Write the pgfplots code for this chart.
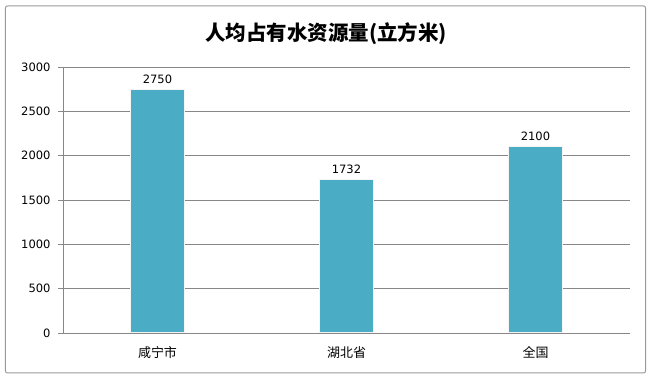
\documentclass[border=0pt]{standalone}
\usepackage{pgfplots}
\pgfplotsset{compat=1.18}
\usetikzlibrary{calc}
\usepackage{fontspec}
\setmainfont{DejaVu Sans}
\newfontfamily\cjk{Noto Sans CJK SC}
\definecolor{barc}{HTML}{4BACC6}
\definecolor{gridc}{HTML}{878787}
\begin{document}
\begin{tikzpicture}
\begin{axis}[
  name=ax,
  scale only axis, width=567pt, height=266pt,
  xmin=-0.5, xmax=2.5, ymin=0, ymax=3000,
  ytick={0,500,...,3000},
  xtick={0,1,2}, xticklabels={咸宁市,湖北省,全国},
  x tick label style={font=\cjk\fontsize{13}{15}\selectfont, yshift=-5pt},
  y tick label style={font=\fontsize{11.5}{13}\selectfont, xshift=-4pt},
  /pgf/number format/assume math mode=true,
  /pgf/number format/1000 sep={},
  ymajorgrids, grid style={gridc, line width=0.8pt},
  axis x line*=bottom, axis y line*=left,
  axis line style={gridc, line width=0.8pt},
  major tick length=5pt,
  xtick style={draw=none},
  ytick style={gridc, line width=0.8pt},
  ytick pos=left,
  tick align=outside,
  ybar, bar width=54pt,
  nodes near coords,
  nodes near coords style={font=\fontsize{11.5}{13}\selectfont, black, yshift=2pt},
  every node near coord/.append style={/pgf/number format/1000 sep={}},
]
\addplot[fill=barc, draw=white!92!gray, line width=1pt] coordinates {(0,2750) (1,1732) (2,2100)};
\end{axis}
\coordinate (O) at ($(ax.south west)+(-63pt,-47pt)$);
\path[use as bounding box] (O) rectangle ++(651pt,380pt);
\draw[gray!80, line width=1pt, rounded corners=2pt] ($(O)+(5.5pt,7pt)$) rectangle ($(O)+(645.5pt,374pt)$);
\node[font=\cjk\bfseries\fontsize{20.5}{24}\selectfont] at ($(O)+(326pt,346pt)$) {人均占有水资源量(立方米)};
\end{tikzpicture}
\end{document}
